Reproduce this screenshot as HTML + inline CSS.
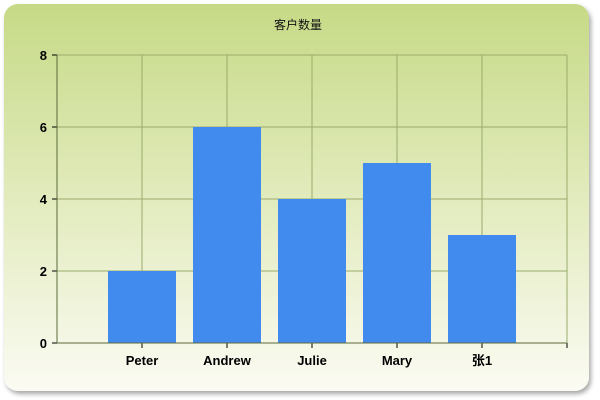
<!DOCTYPE html>
<html><head><meta charset="utf-8"><style>
html,body{margin:0;padding:0;background:#fff;width:600px;height:400px;overflow:hidden}
svg{display:block;font-family:"Liberation Sans","DejaVu Sans","Noto Sans CJK SC",sans-serif}
</style></head><body>
<svg id="c" width="600" height="400">
<defs>
<linearGradient id="bg" x1="0" y1="0" x2="0" y2="1">
<stop offset="0" stop-color="#c6da86"/><stop offset="0.5" stop-color="#e2ebbd"/><stop offset="1" stop-color="#fbfbf3"/>
</linearGradient>
<filter id="sh" x="-5%" y="-5%" width="110%" height="110%"><feDropShadow dx="2" dy="3" stdDeviation="2.5" flood-color="#000" flood-opacity="0.35"/></filter>
</defs>
<rect x="4" y="4" width="585" height="387" rx="14" fill="url(#bg)" filter="url(#sh)"/>
<text x="298" y="29" text-anchor="middle" font-size="12" fill="#111">客户数量</text>
<g id="plot"></g>
</svg>
<script>
const categories = ["Peter","Andrew","Julie","Mary","张1"];
const values = [2,6,4,5,3];
const yTicks = [0,2,4,6,8];
const L=57,R=567,T=55,B=343,yMax=8;
const band=(R-L)/(categories.length+1);
const x=i=>L+band*(i+1);
const y=v=>B-(B-T)*v/yMax;
const g=document.getElementById('plot');
const NS='http://www.w3.org/2000/svg';
function mk(t,a){const e=document.createElementNS(NS,t);for(const k in a)e.setAttribute(k,a[k]);g.appendChild(e);return e;}
yTicks.forEach(v=>{
  if(v>0){const l=mk('line',{x1:L,x2:R,y1:y(v),y2:y(v),stroke:'#9aab6a','stroke-width':1});
  
  }
  const tk=mk('line',{x1:L-5,x2:L,y1:y(v),y2:y(v),stroke:'#000'});
  
  
  const t=mk('text',{x:L-10,y:y(v)+5,'text-anchor':'end','font-size':13,'font-weight':'bold',fill:'#000'});
  t.textContent=v;
  
  
});
categories.forEach((c,i)=>{
  const l=mk('line',{x1:x(i),x2:x(i),y1:T,y2:B,stroke:'#9aab6a'});
  
  
});
const rl=mk('line',{x1:R,x2:R,y1:T,y2:B,stroke:'#9aab6a'});


const tl=mk('line',{x1:L,x2:R,y1:T,y2:T,stroke:'#9aab6a'});


categories.forEach((c,i)=>{
  const w=68;
  const b=mk('rect',{x:x(i)-w/2,y:y(values[i]),width:w,height:B-y(values[i]),fill:'#418bee'});
  
  
  const tk=mk('line',{x1:x(i),x2:x(i),y1:B,y2:B+5,stroke:'#000'});
  
  
  const t=mk('text',{x:x(i),y:B+22,'text-anchor':'middle','font-size':13,'font-weight':'bold',fill:'#000'});
  t.textContent=c;
  
  
});
const et=mk('line',{x1:R,x2:R,y1:B,y2:B+5,stroke:'#000'});


const ya=mk('line',{x1:L,x2:L,y1:T,y2:B,stroke:'#5a6a3a'});


const xa=mk('line',{x1:L,x2:R,y1:B,y2:B,stroke:'#5a6a3a'});


</script>
</body></html>
